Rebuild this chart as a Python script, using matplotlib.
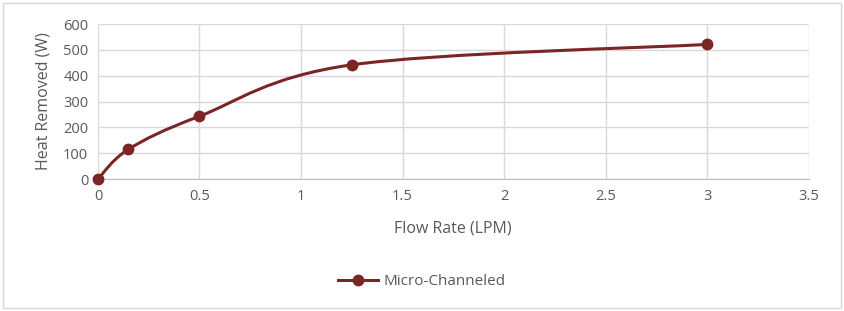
import numpy as np
import matplotlib.pyplot as plt
from matplotlib.patches import Rectangle, PathPatch
from matplotlib.path import Path

# data
flow_rate = [0, 0.15, 0.5, 1.25, 3]
heat_removed = [0, 115, 243, 442, 521]
series_name = 'Micro-Channeled'

line_color = '#7B2525'
text_color = '#595959'
grid_color = '#D9D9D9'

plt.rcParams['font.family'] = ['Open Sans', 'DejaVu Sans']


def smooth_path(xs, ys):
    # Excel-like smoothed line: cubic Bezier through points, Catmull-Rom tangents
    pts = np.column_stack([xs, ys]).astype(float)
    n = len(pts)
    verts = [pts[0]]
    codes = [Path.MOVETO]
    for i in range(n - 1):
        p0 = pts[i - 1] if i > 0 else pts[i]
        p1 = pts[i]
        p2 = pts[i + 1]
        p3 = pts[i + 2] if i + 2 < n else pts[i + 1]
        c1 = p1 + (p2 - p0) / 6.0
        c2 = p2 - (p3 - p1) / 6.0
        verts += [c1, c2, p2]
        codes += [Path.CURVE4] * 3
    return Path(verts, codes)


fig = plt.figure(figsize=(8.44, 3.11), dpi=100)
fig.patches.append(Rectangle((0.004, 0.01), 0.992, 0.98, transform=fig.transFigure,
                             fill=False, edgecolor='#D9D9D9', linewidth=1))

ax = fig.add_axes([0.1161, 0.4244, 0.8419, 0.4984])

ax.add_patch(PathPatch(smooth_path(flow_rate, heat_removed), facecolor='none',
                       edgecolor=line_color, linewidth=2.2, zorder=3))
ax.plot(flow_rate, heat_removed, linestyle='none', marker='o', markersize=7.5,
        color=line_color, zorder=4, clip_on=False)

ax.set_xlim(0, 3.5)
ax.set_ylim(0, 600)
ax.set_xticks(np.arange(0, 3.51, 0.5))
ax.set_xticklabels(['0', '0.5', '1', '1.5', '2', '2.5', '3', '3.5'])
ax.set_yticks(np.arange(0, 601, 100))
ax.grid(True, color=grid_color, linewidth=1)
ax.set_axisbelow(True)
for s in ['top', 'right', 'left']:
    ax.spines[s].set_visible(False)
ax.spines['bottom'].set_color('#BFBFBF')
ax.tick_params(length=0, labelsize=10.5, colors=text_color, pad=7)
ax.set_xlabel('Flow Rate (LPM)', fontsize=11.5, color=text_color, labelpad=12)
ax.set_ylabel('Heat Removed (W)', fontsize=11.5, color=text_color, labelpad=8)

h, = ax.plot([], [], color=line_color, linewidth=2.2, marker='o', markersize=7.5)
fig.legend([h], [series_name], loc='center', bbox_to_anchor=(0.5, 0.095),
           frameon=False, fontsize=11, labelcolor=text_color,
           handlelength=2.6, handletextpad=0.4)

fig.savefig('out.png', dpi=100)
